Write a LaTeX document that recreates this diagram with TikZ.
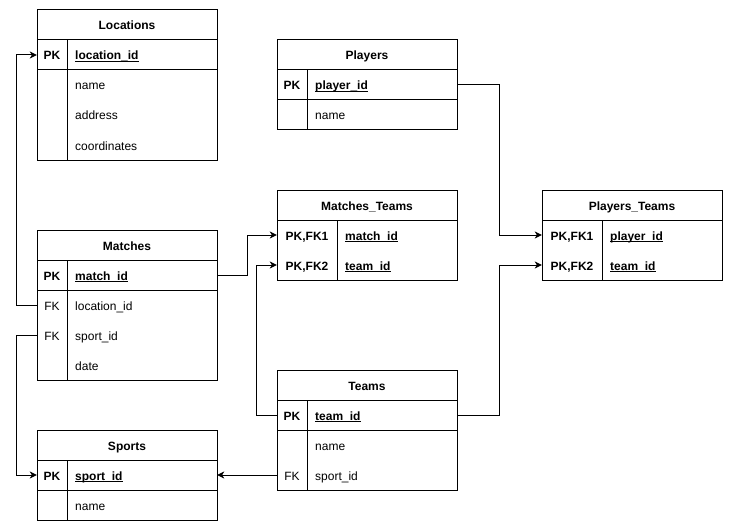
\documentclass[tikz,border=0pt]{standalone}
\usepackage{fontspec}
\setmainfont{Liberation Sans}
\usetikzlibrary{arrows.meta}
\tikzset{
  base/.style={line width=1pt},
  txt/.style={inner sep=0pt, text height=10pt, text depth=0pt, font=\fontsize{12}{14}\selectfont},
  hdr/.style={draw, line width=1pt, minimum width=180pt, minimum height=30pt, inner sep=0pt, text height=10pt, text depth=0pt, font=\fontsize{12}{14}\selectfont\bfseries},
  rowc/.style={minimum width=180pt, minimum height=30pt, inner sep=0pt},
  keyc/.style={txt},
  pkkey/.style={txt, font=\fontsize{12}{14}\selectfont\bfseries},
  fld/.style={txt, anchor=west},
  pkfld/.style={txt, anchor=west, font=\fontsize{12}{14}\selectfont\bfseries},
  conn/.style={line width=1pt, -{Stealth[length=7pt, width=7pt, inset=2pt]}},
}
\newcommand{\ul}[1]{\setbox0\hbox{#1}\rlap{\rule[-2.1pt]{\wd0}{0.9pt}}\box0}
\begin{document}
\begin{tikzpicture}[x=1pt,y=-1pt]
\useasboundingbox (0,0) rectangle (733,532);
\fill[white] (0,0) rectangle (733,532);

% ---------- Locations ----------
\node[hdr] (L) at (127,25) {Locations};
\node[rowc] (L-pk) at (127,55) {};
\node[rowc] (L-name) at (127,85) {};
\node[rowc] (L-addr) at (127,115) {};
\node[rowc] (L-coord) at (127,145) {};
\draw[base] (37,40) rectangle (217,70);
\draw[base] (37,70) rectangle (217,160);
\draw[base] (67,40) -- (67,160);
\node[pkkey] at (52,55) {PK};
\node[pkfld] at (75,55) {\ul{location\_id}};
\node[fld] at (75,85) {name};
\node[fld] at (75,115) {address};
\node[fld] at (75,145) {coordinates};

% ---------- Players ----------
\node[hdr] (P) at (367,55) {Players};
\node[rowc] (P-pk) at (367,85) {};
\node[rowc] (P-name) at (367,115) {};
\draw[base] (277,70) rectangle (457,100);
\draw[base] (277,100) rectangle (457,130);
\draw[base] (307,70) -- (307,130);
\node[pkkey] at (292,85) {PK};
\node[pkfld] at (315,85) {\ul{player\_id}};
\node[fld] at (315,115) {name};

% ---------- Matches_Teams ----------
\node[hdr] (MT) at (367,205) {Matches\_Teams};
\node[rowc] (MT-m) at (367,235) {};
\node[rowc] (MT-t) at (367,265) {};
\draw[base] (277,220) rectangle (457,280);
\draw[base] (337,220) -- (337,280);
\node[pkkey] at (307,235) {PK,FK1};
\node[pkkey] at (307,265) {PK,FK2};
\node[pkfld] at (345,235) {\ul{match\_id}};
\node[pkfld] at (345,265) {\ul{team\_id}};

% ---------- Players_Teams ----------
\node[hdr] (PT) at (632,205) {Players\_Teams};
\node[rowc] (PT-p) at (632,235) {};
\node[rowc] (PT-t) at (632,265) {};
\draw[base] (542,220) rectangle (722,280);
\draw[base] (602,220) -- (602,280);
\node[pkkey] at (572,235) {PK,FK1};
\node[pkkey] at (572,265) {PK,FK2};
\node[pkfld] at (610,235) {\ul{player\_id}};
\node[pkfld] at (610,265) {\ul{team\_id}};

% ---------- Matches ----------
\node[hdr] (M) at (127,245) {Matches};
\node[rowc] (M-pk) at (127,275) {};
\node[rowc] (M-loc) at (127,305) {};
\node[rowc] (M-sp) at (127,335) {};
\node[rowc] (M-date) at (127,365) {};
\draw[base] (37,260) rectangle (217,290);
\draw[base] (37,290) rectangle (217,380);
\draw[base] (67,260) -- (67,380);
\node[pkkey] at (52,275) {PK};
\node[pkfld] at (75,275) {\ul{match\_id}};
\node[keyc] at (52,305) {FK};
\node[fld] at (75,305) {location\_id};
\node[keyc] at (52,335) {FK};
\node[fld] at (75,335) {sport\_id};
\node[fld] at (75,365) {date};

% ---------- Teams ----------
\node[hdr] (T) at (367,385) {Teams};
\node[rowc] (T-pk) at (367,415) {};
\node[rowc] (T-name) at (367,445) {};
\node[rowc] (T-sp) at (367,475) {};
\draw[base] (277,400) rectangle (457,430);
\draw[base] (277,430) rectangle (457,490);
\draw[base] (307,400) -- (307,490);
\node[pkkey] at (292,415) {PK};
\node[pkfld] at (315,415) {\ul{team\_id}};
\node[fld] at (315,445) {name};
\node[keyc] at (292,475) {FK};
\node[fld] at (315,475) {sport\_id};

% ---------- Sports ----------
\node[hdr] (S) at (127,445) {Sports};
\node[rowc] (S-pk) at (127,475) {};
\node[rowc] (S-name) at (127,505) {};
\draw[base] (37,460) rectangle (217,490);
\draw[base] (37,490) rectangle (217,520);
\draw[base] (67,460) -- (67,520);
\node[pkkey] at (52,475) {PK};
\node[pkfld] at (75,475) {\ul{sport\_id}};
\node[fld] at (75,505) {name};

% ---------- Connectors ----------
\draw[conn] (M-loc.west) -- ++(-20,0) |- (L-pk.west);
\draw[conn] (M-sp.west) -- ++(-20,0) |- (S-pk.west);
\draw[conn] (M-pk.east) -- ++(30,0) |- (MT-m.west);
\draw[conn] (T-pk.west) -- ++(-20,0) |- (MT-t.west);
\draw[conn] (T-sp.west) -- (S-pk.east);
\draw[conn] (P-pk.east) -- ++(42.5,0) |- (PT-p.west);
\draw[conn] (T-pk.east) -- ++(42.5,0) |- (PT-t.west);
\end{tikzpicture}
\end{document}
